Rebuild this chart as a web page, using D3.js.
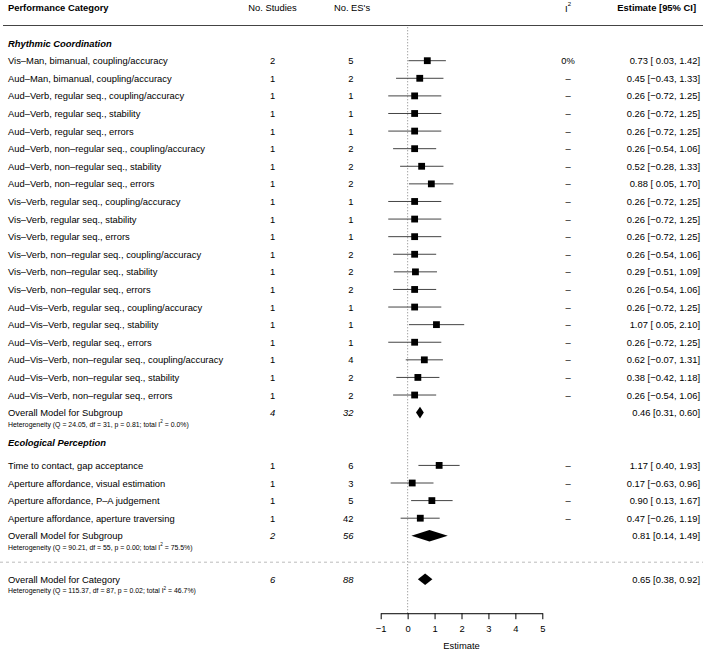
<!DOCTYPE html>
<html><head><meta charset="utf-8">
<script src="https://cdn.jsdelivr.net/npm/d3@7"></script>
<style>
html,body{margin:0;padding:0;background:#fff;}
text{font-family:"Liberation Sans",Arial,Helvetica,sans-serif;}
</style></head>
<body><svg id="chart" width="708" height="653"></svg>
<script>
// ---------- DATA ----------
const rhythmicLabels = [
  "Vis–Man, bimanual, coupling/accuracy",
  "Aud–Man, bimanual, coupling/accuracy",
  "Aud–Verb, regular seq., coupling/accuracy",
  "Aud–Verb, regular seq., stability",
  "Aud–Verb, regular seq., errors",
  "Aud–Verb, non–regular seq., coupling/accuracy",
  "Aud–Verb, non–regular seq., stability",
  "Aud–Verb, non–regular seq., errors",
  "Vis–Verb, regular seq., coupling/accuracy",
  "Vis–Verb, regular seq., stability",
  "Vis–Verb, regular seq., errors",
  "Vis–Verb, non–regular seq., coupling/accuracy",
  "Vis–Verb, non–regular seq., stability",
  "Vis–Verb, non–regular seq., errors",
  "Aud–Vis–Verb, regular seq., coupling/accuracy",
  "Aud–Vis–Verb, regular seq., stability",
  "Aud–Vis–Verb, regular seq., errors",
  "Aud–Vis–Verb, non–regular seq., coupling/accuracy",
  "Aud–Vis–Verb, non–regular seq., stability",
  "Aud–Vis–Verb, non–regular seq., errors"
];
const rhythmicStudies = [2,1,1,1,1,1,1,1,1,1,1,1,1,1,1,1,1,1,1,1];
const rhythmicES      = [5,2,1,1,1,2,2,2,1,1,1,2,2,2,1,1,1,4,2,2];
const rhythmicI2      = ["0%","–","–","–","–","–","–","–","–","–","–","–","–","–","–","–","–","–","–","–"];
const rhythmicEst     = [0.73,0.45,0.26,0.26,0.26,0.26,0.52,0.88,0.26,0.26,0.26,0.26,0.29,0.26,0.26,1.07,0.26,0.62,0.38,0.26];
const rhythmicLo      = [0.03,-0.43,-0.72,-0.72,-0.72,-0.54,-0.28,0.05,-0.72,-0.72,-0.72,-0.54,-0.51,-0.54,-0.72,0.05,-0.72,-0.07,-0.42,-0.54];
const rhythmicHi      = [1.42,1.33,1.25,1.25,1.25,1.06,1.33,1.70,1.25,1.25,1.25,1.06,1.09,1.06,1.25,2.10,1.25,1.31,1.18,1.06];

const ecoLabels  = [
  "Time to contact, gap acceptance",
  "Aperture affordance, visual estimation",
  "Aperture affordance, P–A judgement",
  "Aperture affordance, aperture traversing"
];
const ecoStudies = [1,1,1,1];
const ecoES      = [6,3,5,42];
const ecoI2      = ["–","–","–","–"];
const ecoEst     = [1.17,0.17,0.90,0.47];
const ecoLo      = [0.40,-0.63,0.13,-0.26];
const ecoHi      = [1.93,0.96,1.67,1.19];

const groupNames   = ["Rhythmic Coordination","Ecological Perception"];
const summaryLabels = ["Overall Model for Subgroup","Overall Model for Subgroup","Overall Model for Category"];
const summaryStudies = [4,2,6];
const summaryES      = [32,56,88];
const summaryEst     = [0.46,0.81,0.65];
const summaryLo      = [0.31,0.14,0.38];
const summaryHi      = [0.60,1.49,0.92];
const summaryQ  = ["24.05","90.21","115.37"];
const summaryDf = [31,55,87];
const summaryP  = ["0.81","0.00","0.02"];
const summaryI2 = ["0.0%","75.5%","46.7%"];

const headers = ["Performance Category","No. Studies","No. ES's","I","Estimate [95% CI]"];
const xTicks = [-1,0,1,2,3,4,5];
const xTitle = "Estimate";

// ---------- LAYOUT ----------
const svg = d3.select("#chart");
const x = d3.scaleLinear().domain([-1,5]).range([380.7,542.3]);
const y = d3.scaleLinear().domain([0,26]).range([60.7,518.2]);
const FS = 9.4, FSsmall = 6.9;
const colLabel = 8, colStudies = 272.5, colES = 353.5, colI2 = 568, colEst = 700;

const fmt = v => (v<0 ? "−" : "") + Math.abs(v).toFixed(2);
const fmtPad = v => (v<0 ? "−" : " ") + Math.abs(v).toFixed(2);
const ciText = (e,l,h) => `${fmt(e)} [${fmtPad(l)}, ${fmt(h)}]`;

// Build rows
const studies = [];
rhythmicLabels.forEach((lab,i)=>studies.push({row:i,label:lab,k:rhythmicStudies[i],es:rhythmicES[i],i2:rhythmicI2[i],est:rhythmicEst[i],lo:rhythmicLo[i],hi:rhythmicHi[i]}));
ecoLabels.forEach((lab,i)=>studies.push({row:23+i,label:lab,k:ecoStudies[i],es:ecoES[i],i2:ecoI2[i],est:ecoEst[i],lo:ecoLo[i],hi:ecoHi[i]}));
const summRows = [20,27,29.47];
const summaries = summaryLabels.map((lab,i)=>({row:summRows[i],label:lab,k:summaryStudies[i],es:summaryES[i],est:summaryEst[i],lo:summaryLo[i],hi:summaryHi[i],
  het:`Heterogeneity (Q = ${summaryQ[i]}, df = ${summaryDf[i]}, p = ${summaryP[i]}; total I`, het2:` = ${summaryI2[i]})`}));
const groupRows = [-1,21.72];

// Header
const hy = y(-3);
const gH = svg.append("g").attr("font-size",FS).attr("dominant-baseline","central");
gH.append("text").attr("x",colLabel).attr("y",hy).attr("font-weight","bold").text(headers[0]);
gH.append("text").attr("x",colStudies).attr("y",hy).attr("text-anchor","middle").text(headers[1]);
gH.append("text").attr("x",352).attr("y",hy).attr("text-anchor","middle").text(headers[2]);
const i2h = gH.append("text").attr("x",colI2).attr("y",hy).attr("text-anchor","middle");
i2h.append("tspan").text(headers[3]);
i2h.append("tspan").attr("font-size",6).attr("dy",-3.5).text("2");
gH.append("text").attr("x",696).attr("y",hy).attr("text-anchor","end").attr("font-weight","bold").text(headers[4]);
svg.append("line").attr("x1",3).attr("x2",703).attr("y1",y(-2)).attr("y2",y(-2)).attr("stroke","#444").attr("stroke-width",1);

// Reference line
const axisY = y(31.4);
svg.append("line").attr("x1",x(0)).attr("x2",x(0)).attr("y1",y(-1.9)).attr("y2",axisY)
  .attr("stroke","#666").attr("stroke-width",0.8).attr("stroke-dasharray","1,2");

// Separator
svg.append("line").attr("x1",0).attr("x2",703).attr("y1",y(28.5)).attr("y2",y(28.5))
  .attr("stroke","#bbb").attr("stroke-width",1).attr("stroke-dasharray","3,3");

// Group headers
svg.append("g").selectAll("text").data(groupNames).join("text")
  .attr("x",colLabel).attr("y",(d,i)=>y(groupRows[i])).attr("dominant-baseline","central")
  .attr("font-size",FS).attr("font-weight","bold").attr("font-style","italic").text(d=>d);

// Study rows
const gS = svg.append("g").attr("font-size",FS);
const rowsG = gS.selectAll("g").data(studies).join("g");
rowsG.append("text").attr("x",colLabel).attr("y",d=>y(d.row)).attr("dominant-baseline","central").text(d=>d.label);
rowsG.append("text").attr("x",colStudies).attr("y",d=>y(d.row)).attr("dominant-baseline","central").attr("text-anchor","middle").text(d=>d.k);
rowsG.append("text").attr("x",colES).attr("y",d=>y(d.row)).attr("dominant-baseline","central").attr("text-anchor","end").text(d=>d.es);
rowsG.append("text").attr("x",colI2).attr("y",d=>y(d.row)).attr("dominant-baseline","central").attr("text-anchor","middle").text(d=>d.i2);
rowsG.append("text").attr("x",colEst).attr("y",d=>y(d.row)).attr("dominant-baseline","central").attr("text-anchor","end").style("white-space","pre")
  .text(d=>ciText(d.est,d.lo,d.hi));
rowsG.append("line").attr("x1",d=>x(d.lo)).attr("x2",d=>x(d.hi)).attr("y1",d=>y(d.row)).attr("y2",d=>y(d.row))
  .attr("stroke","#444").attr("stroke-width",1);
const SQ = 6.8;
rowsG.append("rect").attr("x",d=>x(d.est)-SQ/2).attr("y",d=>y(d.row)-SQ/2).attr("width",SQ).attr("height",SQ).attr("fill","#000");

// Summary rows
const gM = svg.append("g").attr("font-size",FS);
const sG = gM.selectAll("g").data(summaries).join("g");
sG.append("text").attr("x",colLabel).attr("y",d=>y(d.row)).attr("dominant-baseline","central").text(d=>d.label);
sG.append("text").attr("x",colStudies).attr("y",d=>y(d.row)).attr("dominant-baseline","central").attr("text-anchor","middle").attr("font-style","italic").text(d=>d.k);
sG.append("text").attr("x",colES).attr("y",d=>y(d.row)).attr("dominant-baseline","central").attr("text-anchor","end").attr("font-style","italic").text(d=>d.es);
sG.append("text").attr("x",colEst).attr("y",d=>y(d.row)).attr("dominant-baseline","central").attr("text-anchor","end")
  .text(d=>`${fmt(d.est)} [${fmt(d.lo)}, ${fmt(d.hi)}]`);
const het = sG.append("text").attr("x",colLabel).attr("y",d=>y(d.row+0.62)).attr("dominant-baseline","central").attr("font-size",FSsmall);
het.append("tspan").text(d=>d.het);
het.append("tspan").attr("font-size",4.6).attr("dy",-2.6).text("2");
het.append("tspan").attr("dy",2.6).text(d=>d.het2);
const DH = 5.8;
sG.append("path").attr("fill","#000").attr("d",d=>{
  const cy=y(d.row);
  return `M${x(d.lo)},${cy}L${x(d.est)},${cy-DH}L${x(d.hi)},${cy}L${x(d.est)},${cy+DH}Z`;
});

// Axis
const axis = d3.axisBottom(x).tickValues(xTicks).tickSize(6).tickSizeOuter(0).tickPadding(6)
  .tickFormat(d=> d<0 ? "−"+Math.abs(d) : String(d));
const ag = svg.append("g").attr("transform",`translate(0,${axisY})`).call(axis);
ag.select(".domain").attr("stroke","#000");
ag.selectAll(".tick line").attr("stroke","#000");
ag.selectAll("text").attr("font-size",FS).attr("font-family","Liberation Sans, Arial, sans-serif").attr("fill","#000");
svg.append("text").attr("x",x(2)).attr("y",645).attr("text-anchor","middle").attr("dominant-baseline","central")
  .attr("font-size",FS).text(xTitle);
</script></body></html>
